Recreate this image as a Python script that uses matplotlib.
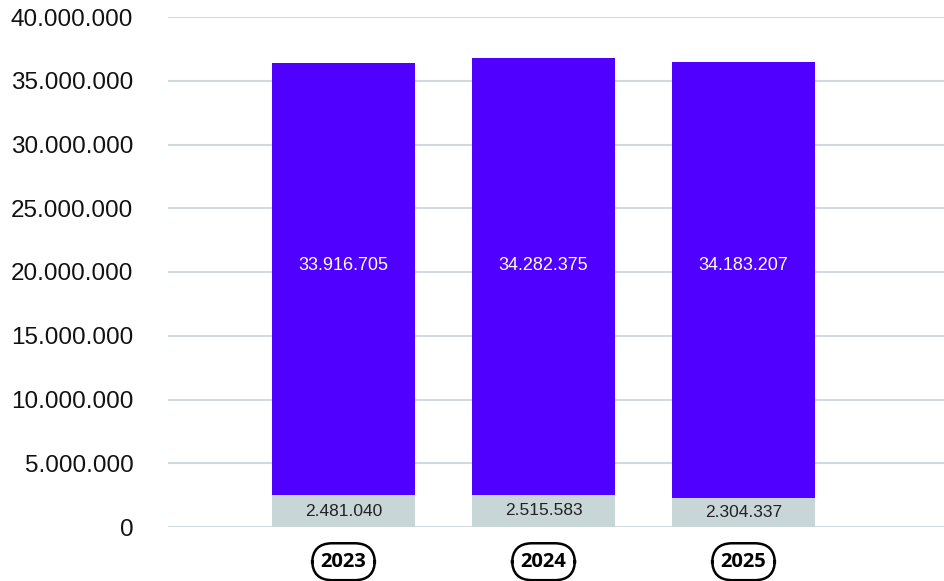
import matplotlib.pyplot as plt
import numpy as np

years = ["2023", "2024", "2025"]
lower = [2481040, 2515583, 2304337]
upper = [33916705, 34282375, 34183207]
yticks = [0, 5000000, 10000000, 15000000, 20000000, 25000000, 30000000, 35000000, 40000000]

purple = "#5000ff"
grey = "#c9d6d8"
grid = "#d0dadc"


def fmt(v):
    return f"{v:,}".replace(",", ".")


fig = plt.figure(figsize=(9.44, 5.81), dpi=100)
ax = fig.add_axes([168 / 944, 54 / 581, 776 / 944, 510 / 581])

x = np.arange(len(years))
w = 0.715
ax.bar(x, lower, width=w, color=grey, zorder=3)
ax.bar(x, upper, width=w, bottom=lower, color=purple, zorder=3)

for xi, lo, up in zip(x, lower, upper):
    ax.text(xi, lo / 2, fmt(lo), ha="center", va="center", fontsize=12.5,
            family="Liberation Sans", color="#222222", zorder=4)
    ax.text(xi, 20500000, fmt(up), ha="center", va="center", fontsize=13,
            family="Liberation Sans", color="white", zorder=4)

ax.set_xlim(-0.8775, 3.0025)
ax.set_ylim(0, 40000000)
ax.set_yticks(yticks)
ax.set_yticklabels([fmt(t) for t in yticks], family="Liberation Sans", fontsize=17.5, color="#111111")
ax.tick_params(axis="y", length=0, pad=25)
ax.yaxis.grid(True, color=grid, linewidth=1.5, zorder=0)

ax.set_xticks(x)
ax.set_xticklabels([])
ax.tick_params(axis="x", length=0)
for xi, yr in zip(x, years):
    ax.annotate(yr, xy=(xi, 0), xycoords="data", xytext=(0, -25), textcoords="offset points",
                ha="center", va="center", fontsize=14.5, fontweight="bold", family="Open Sans",
                bbox=dict(boxstyle="round,pad=0.42,rounding_size=1.0", fc="white", ec="black", lw=1.8))

for s in ax.spines.values():
    s.set_visible(False)

fig.savefig("out.png", dpi=100)
